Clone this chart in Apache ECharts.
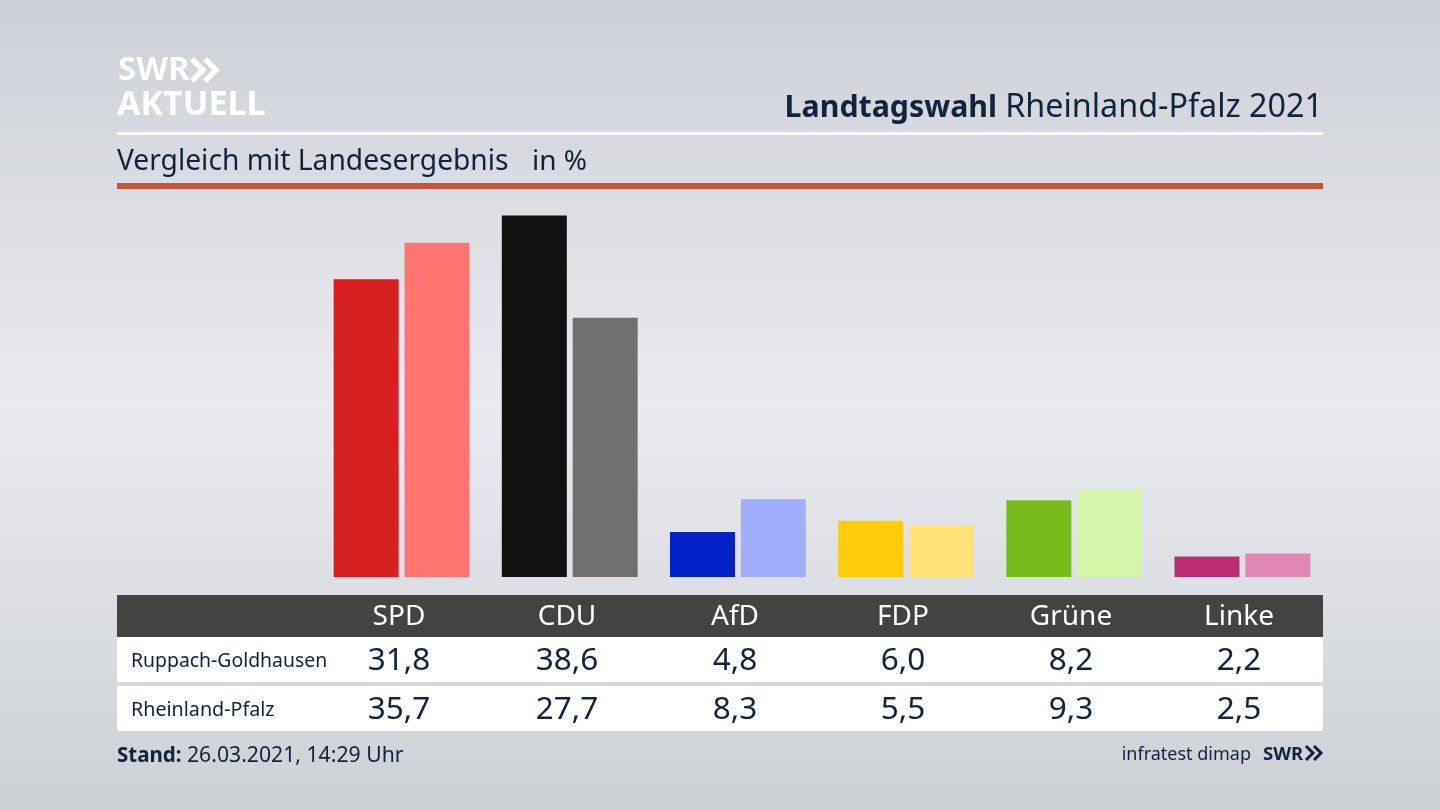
<!DOCTYPE html>
<html lang="de">
<head>
<meta charset="UTF-8">
<script src="https://cdnjs.cloudflare.com/ajax/libs/echarts/6.0.0/echarts.min.js"></script>
<style>
  html, body { margin: 0; padding: 0; background: #dfe1e6; }
  #chart { width: 1440px; height: 810px; }
</style>
</head>
<body>
<div id="chart"></div>
<script>
// Daten
const parties = ['SPD', 'CDU', 'AfD', 'FDP', 'Grüne', 'Linke'];
const localName = 'Ruppach-Goldhausen';
const stateName = 'Rheinland-Pfalz';
const localValues = [31.8, 38.6, 4.8, 6.0, 8.2, 2.2];
const stateValues = [35.7, 27.7, 8.3, 5.5, 9.3, 2.5];
const localColors = ['#d71f1f', '#111111', '#0022c8', '#ffcc0a', '#78bc1c', '#bc2e74'];
const stateColors = ['#ff7370', '#71706e', '#a0aeff', '#ffe377', '#d4f6aa', '#df88b4'];

const FONT = '"Noto Sans", sans-serif';
const INK = '#10233f';
const colX = [399, 567, 735, 903, 1071, 1239];

const fmt = v => v.toFixed(1).replace('.', ',');

function rect(x, y, w, h, fill) {
  return { type: 'rect', silent: true, z: 1, shape: { x, y, width: w, height: h }, style: { fill } };
}
function text(x, y, str, size, fill, align, weight) {
  return {
    type: 'text', silent: true, z: 2, x, y,
    style: { text: str, fontFamily: FONT, fontSize: size, fontWeight: weight || 'normal', fill, align: align || 'center', verticalAlign: 'middle' }
  };
}
function chevrons(x, y, h, w, lw, fill) {
  // die zwei Pfeile im SWR-Logo
  return [0, 1].map(i => ({
    type: 'polyline', silent: true, z: 2,
    shape: { points: [[x + i * w, y], [x + i * w + h / 2, y + h / 2], [x + i * w, y + h]] },
    style: { stroke: fill, lineWidth: lw, fill: null }
  }));
}

const graphics = [
  rect(117, 132, 1206, 3, '#ffffff'),
  rect(117, 183, 1206, 6, '#c8533a'),
  rect(117, 595, 1206, 42, '#434341'),
  rect(117, 637, 1206, 45, '#ffffff'),
  rect(117, 686, 1206, 45, '#ffffff'),

  text(118, 71, 'SWR', 33, '#ffffff', 'left', 'bold'),
  text(117, 105, 'AKTUELL', 34, '#ffffff', 'left', 'bold'),
  ...chevrons(192, 59, 22, 13, 5.5, '#ffffff'),

  text(997, 108, 'Landtagswahl', 30.3, INK, 'right', 'bold'),
  text(1323, 108, 'Rheinland-Pfalz 2021', 32.3, INK, 'right'),
  text(117, 162, 'Vergleich mit Landesergebnis', 28.2, INK, 'left'),
  text(532, 162, 'in %', 28, INK, 'left'),

  text(131, 661, localName, 19.4, INK, 'left'),
  text(131, 710, stateName, 19.7, INK, 'left'),

  text(117, 756, 'Stand:', 20.5, INK, 'left', 'bold'),
  text(187, 756, '26.03.2021, 14:29 Uhr', 21.2, INK, 'left'),
  text(1251, 755, 'infratest dimap', 18, INK, 'right'),
  text(1263, 755, 'SWR', 18.5, INK, 'left', 'bold'),
  ...chevrons(1306, 746, 14, 8, 3, INK)
];

parties.forEach((p, i) => {
  graphics.push(text(colX[i], 617, p, 28, '#ffffff'));
  graphics.push(text(colX[i], 661, fmt(localValues[i]), 31.5, INK));
  graphics.push(text(colX[i], 710, fmt(stateValues[i]), 31.5, INK));
});

const myChart = echarts.init(document.getElementById('chart'), null, { renderer: 'canvas' });
myChart.setOption({
  animation: false,
  backgroundColor: {
    type: 'linear', x: 0, y: 0, x2: 0, y2: 1,
    colorStops: [
      { offset: 0, color: '#cdd0d6' },
      { offset: 0.5, color: '#e9ebf0' },
      { offset: 1, color: '#cdd0d5' }
    ]
  },
  grid: { left: 317.5, width: 1009, top: 202.5, height: 374.5 },
  xAxis: { type: 'category', data: parties, show: false },
  yAxis: { type: 'value', min: 0, max: 40, show: false },
  series: [
    {
      name: localName, type: 'bar', barWidth: 65, barGap: '9%',
      data: localValues.map((v, i) => ({ value: v, itemStyle: { color: localColors[i] } }))
    },
    {
      name: stateName, type: 'bar', barWidth: 65,
      data: stateValues.map((v, i) => ({ value: v, itemStyle: { color: stateColors[i] } }))
    }
  ],
  graphic: graphics
});
</script>
</body>
</html>
